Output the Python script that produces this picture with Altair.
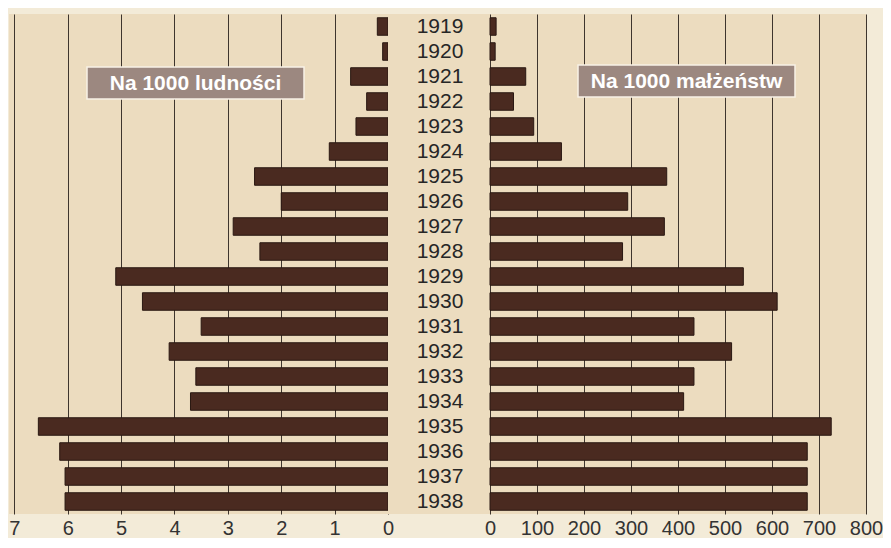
import altair as alt
import pandas as pd

years = [str(y) for y in range(1919, 1939)]
per_population = [0.2, 0.1, 0.7, 0.4, 0.6, 1.1, 2.5, 2.0, 2.9, 2.4,
                  5.1, 4.6, 3.5, 4.1, 3.6, 3.7, 6.55, 6.15, 6.05, 6.05]
per_marriages = [13, 11, 76, 50, 93, 152, 376, 293, 371, 282,
                 539, 611, 434, 514, 434, 412, 726, 675, 675, 675]
left_ticks = [0, 1, 2, 3, 4, 5, 6, 7]
right_ticks = [0, 100, 200, 300, 400, 500, 600, 700, 800]
left_label = ["Na 1000 ludności"]
right_label = ["Na 1000 małżeństw"]

df = pd.DataFrame({"year": years, "pop": per_population, "mar": per_marriages})

FONT = "Liberation Sans"
BAR = "#4a2a20"
BAR_STROKE = "#2a1812"
GRID = "#3e352d"
BOX = "#9c8880"
H = 500
LEFT_W = 379
CENTER_W = 102
RIGHT_W = 376

y_enc = alt.Y("year:N", sort=years, axis=None,
              scale=alt.Scale(paddingInner=0.3, paddingOuter=0.15))


def axis(values):
    return alt.Axis(values=values, grid=True, gridColor=GRID, gridWidth=1,
                    gridOpacity=1, ticks=False, domain=False, title=None,
                    labelFont=FONT, labelFontSize=20, labelColor="#333333",
                    labelPadding=4, labelOverlap=False, labelFlush=False)


def label_box(text, x1, x2, y1, y2):
    d = pd.DataFrame({"t": text})
    rect = alt.Chart(d).mark_rect(fill=BOX, stroke="#f7f1e6", strokeWidth=1.5).encode(
        x=alt.value(x1), x2=alt.value(x2), y=alt.value(y1), y2=alt.value(y2))
    txt = alt.Chart(d).mark_text(font=FONT, fontSize=21, fontWeight="bold",
                                 color="white", baseline="middle").encode(
        text="t:N", x=alt.value((x1 + x2) / 2), y=alt.value((y1 + y2) / 2 + 1))
    return rect + txt


left = alt.layer(
    alt.Chart(df).mark_bar(color=BAR, stroke=BAR_STROKE, strokeWidth=1).encode(
        x=alt.X("pop:Q", axis=axis(left_ticks),
                scale=alt.Scale(domain=[0, 7.1], reverse=True, nice=False, zero=True)),
        y=y_enc),
    label_box(left_label, 78, 295, 53, 85),
).properties(width=LEFT_W, height=H)

center = alt.Chart(df).mark_text(font=FONT, fontSize=21, color="#262626",
                                 baseline="middle").encode(
    y=y_enc, text="year:N", x=alt.value(CENTER_W / 2 + 1)
).properties(width=CENTER_W, height=H)

right = alt.layer(
    alt.Chart(df).mark_bar(color=BAR, stroke=BAR_STROKE, strokeWidth=1).encode(
        x=alt.X("mar:Q", axis=axis(right_ticks),
                scale=alt.Scale(domain=[0, 800], nice=False)),
        y=y_enc),
    label_box(right_label, 88, 305, 51, 83),
).properties(width=RIGHT_W, height=H)

chart = alt.hconcat(left, center, right, spacing=0, bounds="flush").properties(
    background="#f3ebd8",
    padding={"top": 6, "left": 0, "right": 0, "bottom": 0},
).configure_view(fill="#ecdcbf", strokeWidth=0)

chart.save("out.html", embed_options={"renderer": "svg", "actions": False})
